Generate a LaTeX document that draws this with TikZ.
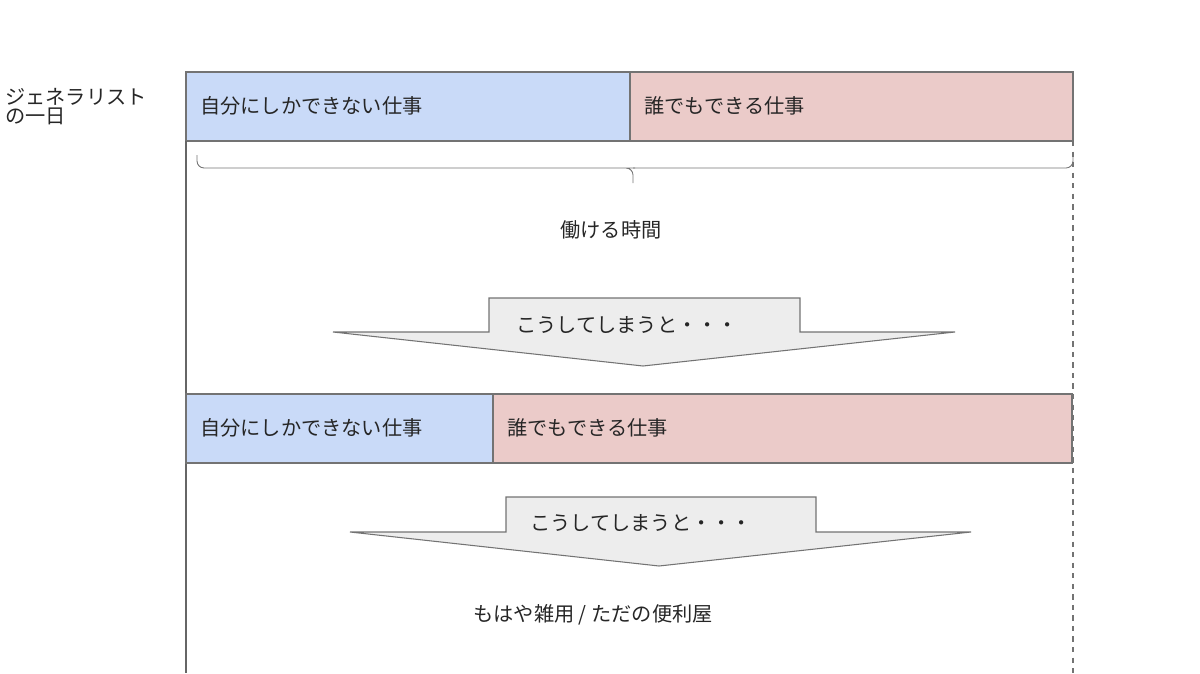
\documentclass[tikz,border=0pt]{standalone}
\usepackage{fontspec}
\setmainfont{Noto Sans CJK JP}
\begin{document}
\begin{tikzpicture}[x=0.02cm,y=-0.02cm,
  lab/.style={font=\fontsize{11.5pt}{14pt}\selectfont,text=black!85},
  bar/.style={draw=black!55,line width=0.6pt},
  arr/.style={draw=black!55,fill=black!7,line width=0.6pt}]
\useasboundingbox (0,0) rectangle (1200,673);
\definecolor{cb}{HTML}{C9DAF8}\definecolor{cp}{HTML}{EBCBC9}
\node[lab,anchor=north west,align=left,inner sep=0] (title) at (5,88) {ジェネラリスト\\[-3pt]の一日};
\draw[bar,fill=cb] (186,72) rectangle (630,141);
\draw[bar,fill=cp] (630,72) rectangle (1073,141);
\node[lab,anchor=west] (a1) at (194,106) {自分にしかできない仕事};
\node[lab,anchor=west] (b1) at (638,106) {誰でもできる仕事};
\draw[black!60,line width=0.6pt] (186,141) -- (186,673);
\draw[black!55,dashed,line width=0.6pt] (1073,141) -- (1073,673);
\draw[black!55,line width=0.5pt,rounded corners=4pt] (197,155) -- (197,168) -- (628,168) -- (633,168) -- (633,183);
\draw[black!55,line width=0.5pt,rounded corners=4pt] (1073,155) -- (1073,168) -- (633,168);
\node[lab] (t) at (611,230) {働ける時間};
\draw[arr] (489,298) -- (800,298) -- (800,332) -- (955,332) -- (643,366) -- (333,332) -- (489,332) -- cycle;
\node[lab] (c1) at (627,325) {こうしてしまうと・・・};
\draw[bar,fill=cb] (186,394) rectangle (493,463);
\draw[bar,fill=cp] (493,394) rectangle (1072,463);
\node[lab,anchor=west] (a2) at (194,428) {自分にしかできない仕事};
\node[lab,anchor=west] (b2) at (501,428) {誰でもできる仕事};
\draw[arr] (506,497) -- (816,497) -- (816,532) -- (971,532) -- (659,566) -- (350,532) -- (506,532) -- cycle;
\node[lab] (c2) at (641,523) {こうしてしまうと・・・};
\node[lab] (e) at (593,615) {もはや雑用 / ただの便利屋};
\end{tikzpicture}
\end{document}
